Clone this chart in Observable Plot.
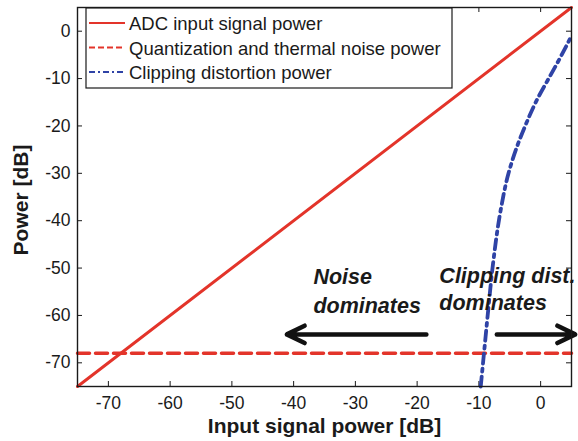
<!DOCTYPE html>
<html>
<head>
<meta charset="utf-8">
<script src="https://cdn.jsdelivr.net/npm/d3@7"></script>
<script src="https://cdn.jsdelivr.net/npm/@observablehq/plot@0.6"></script>
<style>
  html, body { margin: 0; padding: 0; background: #fff; }
  #chart svg { display: block; }
</style>
</head>
<body>
<div id="chart"></div>
<script>
// Axis ticks (dB)
const xTicks = [-70, -60, -50, -40, -30, -20, -10, 0];
const yTicks = [0, -10, -20, -30, -40, -50, -60, -70];

// ADC input signal power follows the input power one-to-one
const signalX = [-75, 5];
const signalY = [-75, 5];

// Quantization and thermal noise floor
const noiseX = [-75, 5];
const noiseY = [-68, -68];

// Clipping distortion power versus input power
const clipX = [-9.7, -9.1, -8.5, -7.7, -6.5, -5.2, -4.0, -2.5, -0.6, 1.3, 3.0, 5.0];
const clipY = [-75, -67, -59, -49, -38, -30, -25, -20, -14.5, -10, -6, -1];

// Annotation arrows: start and end points
const arrowX1 = [-18.5, -7.1];
const arrowX2 = [-41.1, 5.6];
const arrowY = [-64, -64];

// Annotation text
const noteText = ["Noise", "dominates", "Clipping dist.", "dominates"];
const noteX = [-36.8, -36.8, -16.4, -16.4];
const noteY = [-51.9, -58.0, -51.7, -57.4];

// Legend entries
const legendNames = ["ADC input signal power", "Quantization and thermal noise power", "Clipping distortion power"];

const RED = "#e3342a";
const BLUE = "#2f43a6";
const INK = "#1a1a1a";
const FONT = "'Liberation Sans', Arial, Helvetica, sans-serif";

const toPoints = (xs, ys) => xs.map((x, i) => ({x, y: ys[i]}));
const signal = toPoints(signalX, signalY);
const noise = toPoints(noiseX, noiseY);
const clip = toPoints(clipX, clipY);
const arrows = arrowX1.map((x1, i) => ({x1, x2: arrowX2[i], y: arrowY[i]}));
const notes = noteText.map((t, i) => ({t, x: noteX[i], y: noteY[i]}));

const W = 578, H = 441;
const mL = 77, mR = 7, mT = 7, mB = 55;
const plotH = H - mT - mB;
const plotW = W - mL - mR;
const tickLen = 5;

const chart = Plot.plot({
  width: W,
  height: H,
  marginLeft: mL,
  marginRight: mR,
  marginTop: mT,
  marginBottom: mB,
  style: {fontFamily: FONT, color: INK, background: "#fff", overflow: "visible"},
  x: {domain: [-75, 5]},
  y: {domain: [-75, 5]},
  marks: [
    // tick labels
    Plot.axisX(xTicks, {tickSize: 0, tickPadding: 10, fontSize: 17.5, tickFormat: d => String(d), label: null, fill: INK}),
    Plot.axisY(yTicks, {tickSize: 0, tickPadding: 7, fontSize: 17.5, tickFormat: d => String(d), label: null, fill: INK}),
    // inward tick marks on all four sides
    Plot.ruleX(xTicks, {x: d => d, insetTop: plotH - tickLen, stroke: INK, strokeWidth: 1}),
    Plot.ruleX(xTicks, {x: d => d, insetBottom: plotH - tickLen, stroke: INK, strokeWidth: 1}),
    Plot.ruleY(yTicks, {y: d => d, insetRight: plotW - tickLen, stroke: INK, strokeWidth: 1}),
    Plot.ruleY(yTicks, {y: d => d, insetLeft: plotW - tickLen, stroke: INK, strokeWidth: 1}),
    // data
    Plot.line(noise, {x: "x", y: "y", stroke: RED, strokeWidth: 3.5, strokeDasharray: "12,6"}),
    Plot.line(signal, {x: "x", y: "y", stroke: RED, strokeWidth: 3}),
    Plot.line(clip, {x: "x", y: "y", stroke: BLUE, strokeWidth: 3.8, strokeDasharray: "10,5,3,5", curve: "monotone-y"}),
    // annotations
    Plot.arrow(arrows, {x1: "x1", y1: "y", x2: "x2", y2: "y", stroke: "#111", strokeWidth: 4.5, headLength: 6.6, headAngle: 52}),
    Plot.text(notes, {x: "x", y: "y", text: "t", textAnchor: "start", fontSize: 21.5, fontWeight: "bold", fontStyle: "italic", fill: INK}),
    // axis titles
    Plot.text(["Input signal power [dB]"], {frameAnchor: "bottom", lineAnchor: "middle", textAnchor: "middle", dy: 39.5, fontSize: 21, fontWeight: "bold", fill: INK}),
    Plot.text(["Power [dB]"], {frameAnchor: "left", lineAnchor: "middle", textAnchor: "middle", dx: -56, dy: 3, rotate: -90, fontSize: 21, fontWeight: "bold", fill: INK}),
    Plot.frame({stroke: INK, strokeWidth: 1.4})
  ]
});

// Legend box in the upper-left corner of the plot area
const svg = d3.select(chart);
const lg = svg.append("g").attr("transform", `translate(${mL + 9},${mT + 1})`);
lg.append("rect")
  .attr("width", 366).attr("height", 80)
  .attr("fill", "#fff").attr("stroke", INK).attr("stroke-width", 1.2);
const legendStyles = [
  {stroke: RED, dash: null},
  {stroke: RED, dash: "6,3"},
  {stroke: BLUE, dash: "6,3,2,3"}
];
legendNames.forEach((name, i) => {
  const y = 15 + i * 24.5;
  lg.append("line")
    .attr("x1", 3).attr("x2", 39).attr("y1", y).attr("y2", y)
    .attr("stroke", legendStyles[i].stroke).attr("stroke-width", 2)
    .attr("stroke-dasharray", legendStyles[i].dash);
  lg.append("text")
    .attr("x", 43).attr("y", y + 7)
    .attr("text-anchor", "start")
    .attr("font-size", 18.5).attr("font-family", FONT).attr("fill", INK)
    .text(name);
});

document.getElementById("chart").appendChild(chart);
</script>
</body>
</html>
